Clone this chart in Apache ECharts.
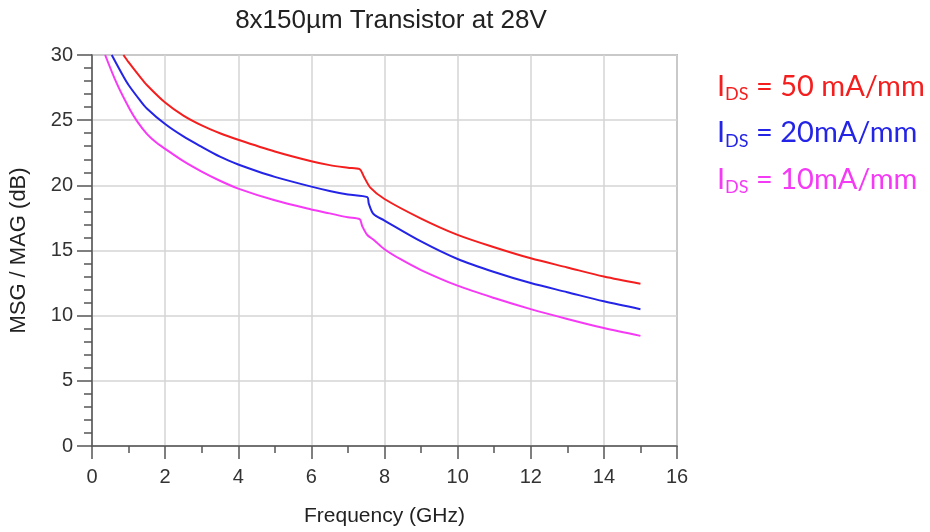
<!DOCTYPE html>
<html>
<head>
<meta charset="utf-8">
<script src="https://cdn.jsdelivr.net/npm/echarts@6/dist/echarts.min.js"></script>
<style>
  html, body { margin: 0; padding: 0; background: #fff; }
  #chart { width: 930px; height: 532px; }
</style>
</head>
<body>
<div id="chart"></div>
<script>
var mychart = echarts.init(document.getElementById("chart"));

// MSG/MAG vs frequency [GHz, dB]
var ids50 = [
    [0.86, 30], [1.0, 29.45], [1.32, 28.3], [1.5, 27.7], [2.0, 26.35], [2.5, 25.35],
    [3.0, 24.6], [3.5, 24.0], [4.0, 23.5], [5.0, 22.6], [6.0, 21.85], [6.5, 21.55],
    [7.0, 21.35], [7.32, 21.24], [7.43, 20.7], [7.62, 19.8], [8.0, 18.95], [9.0, 17.45],
    [10.0, 16.2], [11.0, 15.25], [12.0, 14.4], [13.0, 13.7], [14.0, 13.0], [15.0, 12.45]
];
var ids20 = [
    [0.54, 30], [0.86, 28.35], [1.0, 27.7], [1.32, 26.5], [1.5, 25.9], [2.0, 24.7],
    [2.5, 23.75], [3.0, 22.95], [3.5, 22.2], [4.0, 21.6], [4.5, 21.1], [5.0, 20.65],
    [6.0, 19.9], [6.5, 19.57], [7.0, 19.3], [7.53, 19.09], [7.57, 18.6], [7.7, 17.8],
    [8.0, 17.3], [9.0, 15.7], [10.0, 14.35], [11.0, 13.35], [12.0, 12.5], [13.0, 11.8],
    [14.0, 11.1], [15.0, 10.5]
];
var ids10 = [
    [0.36, 30], [0.68, 27.8], [1.04, 25.8], [1.25, 24.85], [1.5, 23.95], [1.75, 23.3],
    [2.0, 22.8], [2.5, 21.85], [3.0, 21.05], [3.5, 20.35], [4.0, 19.75], [5.0, 18.85],
    [6.0, 18.15], [6.5, 17.85], [7.0, 17.55], [7.32, 17.4], [7.39, 16.88], [7.53, 16.19],
    [7.71, 15.8], [8.0, 15.1], [8.44, 14.33], [9.0, 13.5], [10.0, 12.3], [11.0, 11.35],
    [12.0, 10.5], [13.0, 9.75], [14.0, 9.05], [15.0, 8.45]
];
var seriesNames = ['50', '20', '10'];
var legendTails = [' = 50 mA/mm', ' = 20mA/mm', ' = 10mA/mm'];
var colors = ['#f41e1e', '#2424e6', '#f53af5'];

function curve(name, data, color) {
    return {
        name: name,
        type: 'line',
        data: data,
        showSymbol: false,
        smooth: 0.3,
        lineStyle: { color: color, width: 2 },
        itemStyle: { color: color }
    };
}

option = {
    backgroundColor: '#fff',
    animation: false,
    title: {
        text: '8x150µm Transistor at 28V',
        left: 386,
        textAlign: 'center',
        top: 3,
        textStyle: {
            fontFamily: 'Liberation Sans',
            fontSize: 26,
            fontWeight: 'normal',
            color: '#222'
        }
    },
    grid: {
        left: 92,
        right: 253,
        top: 55,
        bottom: 86,
        show: true,
        borderColor: '#8a8a8a',
        borderWidth: 1.5
    },
    legend: {
        orient: 'vertical',
        left: 707,
        top: 67,
        icon: 'none',
        itemWidth: 0,
        itemGap: 15,
        selectedMode: false,
        data: seriesNames.map(function (n, i) {
            return { name: n, textStyle: { color: colors[i] } };
        }),
        formatter: function (name) {
            var i = seriesNames.indexOf(name);
            return '{a|I}{b|DS}{a|' + legendTails[i] + '}';
        },
        textStyle: {
            fontFamily: 'Lato',
            rich: {
                a: { fontSize: 29, fontFamily: 'Lato' },
                b: { fontSize: 18, fontFamily: 'Lato', padding: [16, 0, 0, 0] }
            }
        }
    },
    xAxis: {
        type: 'value',
        min: 0,
        max: 16,
        interval: 2,
        name: 'Frequency (GHz)',
        nameLocation: 'middle',
        nameGap: 60,
        nameTextStyle: { fontFamily: 'Liberation Sans', fontSize: 21, color: '#222' },
        axisLine: { lineStyle: { color: '#555', width: 1.5 } },
        axisTick: { length: 13, lineStyle: { color: '#555', width: 1.5 } },
        minorTick: { show: true, splitNumber: 2, length: 7, lineStyle: { color: '#555', width: 1.5 } },
        axisLabel: { margin: 21, fontFamily: 'Liberation Sans', fontSize: 20, color: '#333' },
        splitLine: { lineStyle: { color: '#d4d4d4', width: 1.5 } }
    },
    yAxis: {
        type: 'value',
        min: 0,
        max: 30,
        interval: 5,
        name: 'MSG / MAG (dB)',
        nameLocation: 'middle',
        nameGap: 62,
        nameTextStyle: { fontFamily: 'Liberation Sans', fontSize: 22, color: '#222' },
        axisLine: { show: true, lineStyle: { color: '#555', width: 1.5 } },
        axisTick: { show: true, length: 15, lineStyle: { color: '#555', width: 1.5 } },
        minorTick: { show: true, splitNumber: 5, length: 8, lineStyle: { color: '#555', width: 1.5 } },
        axisLabel: { margin: 19, fontFamily: 'Liberation Sans', fontSize: 20, color: '#333' },
        splitLine: { lineStyle: { color: '#d4d4d4', width: 1.5 } }
    },
    series: [
        curve('50', ids50, colors[0]),
        curve('20', ids20, colors[1]),
        curve('10', ids10, colors[2])
    ]
};
mychart.setOption(option, true);
</script>
</body>
</html>
